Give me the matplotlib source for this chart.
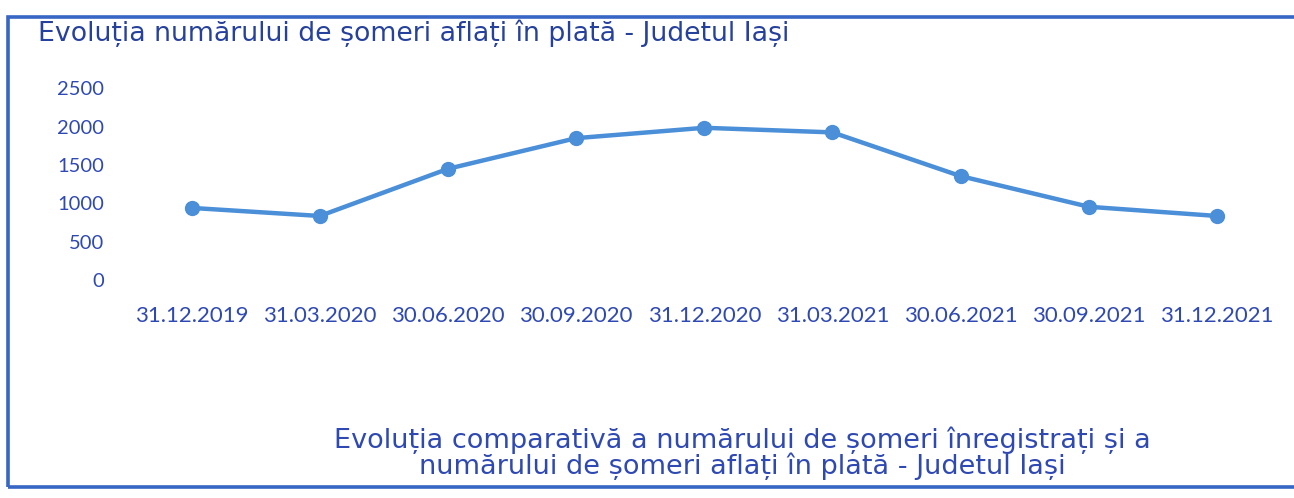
import matplotlib

matplotlib.use("Agg")
import matplotlib.pyplot as plt
from matplotlib.patches import Rectangle

# data
dates = ["31.12.2019", "31.03.2020", "30.06.2020", "30.09.2020", "31.12.2020",
         "31.03.2021", "30.06.2021", "30.09.2021", "31.12.2021"]
somers_in_plata = [940, 835, 1450, 1850, 1985, 1925, 1355, 955, 835]
y_ticks = [0, 500, 1000, 1500, 2000, 2500]

title = "Evoluția numărului de șomeri aflați în plată - Judetul Iași"
caption = ("Evoluția comparativă a numărului de șomeri înregistrați și a\n"
           "numărului de șomeri aflați în plată - Judetul Iași")

W, H = 1294, 498
LINE_COLOR = "#4a8fd8"
TICK_COLOR = "#2f49b3"
TITLE_COLOR = "#26419c"
FRAME_COLOR = "#3766c4"

fig = plt.figure(figsize=(W / 100, H / 100), dpi=100)
fig.patch.set_facecolor("white")

ax = fig.add_axes([127.6 / W, 1 - 280 / H, (1281 - 127.6) / W, (280 - 88.3) / H])
x = list(range(len(dates)))
ax.plot(x, somers_in_plata, color=LINE_COLOR, linewidth=3.2,
        marker="o", markersize=10, markerfacecolor=LINE_COLOR,
        markeredgecolor=LINE_COLOR, solid_capstyle="round")

ax.set_xlim(-0.5, len(dates) - 0.5)
ax.set_ylim(0, 2500)
ax.set_xticks(x)
ax.set_xticklabels(dates)
ax.set_yticks(y_ticks)
ax.tick_params(axis="x", length=0, pad=19, labelsize=16, labelcolor=TICK_COLOR)
ax.tick_params(axis="y", length=0, pad=17, labelsize=14.5, labelcolor=TICK_COLOR)
for lab in ax.get_xticklabels() + ax.get_yticklabels():
    lab.set_fontfamily("Lato")
for side in ax.spines.values():
    side.set_visible(False)
ax.set_facecolor("none")

# outer frame of the scanned box (right edge runs off the page)
fig.add_artist(Rectangle((8 / W, 1 - 487 / H), 1.2, (487 - 17) / H,
                         transform=fig.transFigure, fill=False,
                         edgecolor=FRAME_COLOR, linewidth=2.6, clip_on=False))

fig.text(38 / W, 1 - 33 / H, title, ha="left", va="center",
         fontsize=19.3, color=TITLE_COLOR, family="DejaVu Sans")
fig.text(742 / W, 1 - 453 / H, caption, ha="center", va="center",
         fontsize=19.5, color=TICK_COLOR, family="DejaVu Sans", linespacing=0.95)

fig.savefig("out.png", dpi=100)
